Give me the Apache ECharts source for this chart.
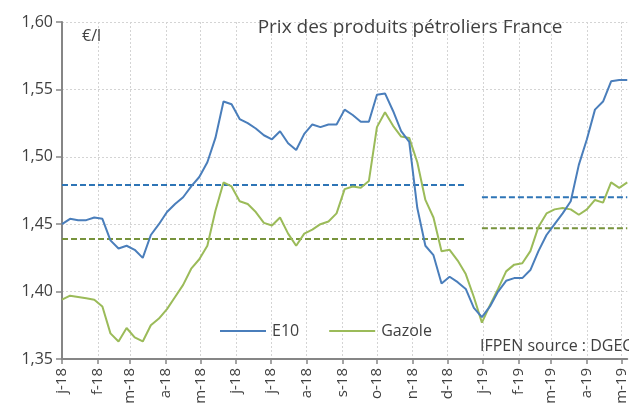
<!DOCTYPE html>
<html>
<head>
<meta charset="utf-8">
<script src="https://cdn.jsdelivr.net/npm/echarts@6/dist/echarts.min.js"></script>
<style>html,body{margin:0;padding:0;background:#fff}#c{width:629px;height:409px}</style>
</head>
<body>
<div id="c"></div>
<script>
// ---- data ----
const axisStart = '2018-01-01';
const axisEnd = '2019-05-06';
const firstWeek = '2018-01-01';
const monthLetters = ['j','f','m','a','m','j','j','a','s','o','n','d'];
const yTicks = [1.35, 1.40, 1.45, 1.50, 1.55, 1.60];

const e10 = [1.450,1.454,1.453,1.453,1.455,1.454,1.438,1.432,1.434,1.431,1.425,1.442,1.450,1.459,1.465,1.470,1.478,1.485,1.496,1.514,
  1.541,1.539,1.528,1.525,1.521,1.516,1.513,1.519,1.510,1.505,1.517,1.524,1.522,1.524,1.524,1.535,1.531,1.526,1.526,1.546,
  1.547,1.534,1.519,1.511,1.462,1.434,1.427,1.406,1.411,1.407,1.402,1.388,1.381,1.389,1.400,1.408,1.410,1.410,1.416,1.430,
  1.442,1.450,1.458,1.467,1.494,1.513,1.535,1.541,1.556,1.557,1.557];
const gazole = [1.394,1.397,1.396,1.395,1.394,1.389,1.369,1.363,1.373,1.366,1.363,1.375,1.380,1.387,1.396,1.405,1.417,1.424,1.434,1.460,
  1.481,1.478,1.467,1.465,1.459,1.451,1.449,1.455,1.443,1.434,1.443,1.446,1.450,1.452,1.458,1.476,1.478,1.477,1.482,1.522,
  1.533,1.523,1.515,1.514,1.496,1.468,1.455,1.430,1.431,1.423,1.413,1.396,1.377,1.390,1.402,1.415,1.420,1.421,1.430,1.448,
  1.458,1.461,1.462,1.461,1.457,1.461,1.468,1.466,1.481,1.477,1.481];

const avgPeriods = ['2018-01-01','2018-12-16','2018-12-31','2019-05-06'];
const avgE10 = [1.479, 1.470];
const avgGazole = [1.439, 1.447];

// ---- build ----
function fmt(d){ return d.toISOString().slice(0,10); }
const cats = [];
for (let d = new Date(axisStart + 'T00:00:00Z'); fmt(d) <= axisEnd; d.setUTCDate(d.getUTCDate()+1)) cats.push(fmt(d));
const weeks = [];
for (let i = 0, d = new Date(firstWeek + 'T00:00:00Z'); i < e10.length; i++, d.setUTCDate(d.getUTCDate()+7)) weeks.push(fmt(d));
const isMonthStart = (i, v) => String(v).slice(8) === '01';
const FONT = 'Open Sans';
const TXT = '#404040';

const chart = echarts.init(document.getElementById('c'), null, {renderer:'canvas'});
chart.setOption({
  animation: false,
  backgroundColor: '#fff',
  textStyle: {fontFamily: FONT, color: TXT},
  title: [
    {text: 'Prix des produits pétroliers France', left: 405, top: 13, textAlign: 'center',
     textStyle: {fontFamily: FONT, fontSize: 19, fontWeight: 'normal', color: TXT}},
    {text: '€/l', left: 77, top: 23, textStyle: {fontFamily: FONT, fontSize: 16, fontWeight: 'normal', color: TXT}},
    {text: 'IFPEN source : DGEC', left: 475, top: 333, textStyle: {fontFamily: FONT, fontSize: 16, fontWeight: 'normal', color: TXT}}
  ],
  legend: {
    data: ['E10', 'Gazole'],
    left: 215, top: 318,
    icon: 'rect', itemWidth: 46, itemHeight: 2, itemGap: 30,
    textStyle: {fontFamily: FONT, fontSize: 16, color: TXT, padding: [0,0,0,1]}
  },
  grid: {left: 62, right: 0, top: 22, bottom: 50, containLabel: false},
  xAxis: {
    type: 'category', data: cats, boundaryGap: false,
    axisLine: {lineStyle: {color: '#868686', width: 2}},
    axisTick: {interval: isMonthStart, length: 5, lineStyle: {color: '#868686', width: 1.5}},
    axisLabel: {interval: isMonthStart, rotate: 90, margin: 9, fontSize: 15, color: TXT, fontFamily: FONT,
      formatter: v => monthLetters[+v.slice(5,7)-1] + '-' + v.slice(2,4)},
    splitLine: {show: true, interval: isMonthStart, lineStyle: {color: '#d4d4d4', type: [2,2], width: 1}}
  },
  yAxis: {
    type: 'value', min: yTicks[0], max: yTicks[yTicks.length-1], interval: 0.05,
    axisLine: {show: true, lineStyle: {color: '#868686', width: 2}},
    axisTick: {show: true, length: 6, lineStyle: {color: '#868686', width: 1.5}},
    axisLabel: {fontSize: 16, color: TXT, fontFamily: FONT, margin: 9, formatter: v => v.toFixed(2).replace('.', ',')},
    splitLine: {lineStyle: {color: '#d4d4d4', type: [2,2], width: 1}}
  },
  series: [
    {name: 'E10', type: 'line', data: weeks.map((w,i)=>[w, e10[i]]), showSymbol: false,
     lineStyle: {color: '#4a7ebb', width: 2}, itemStyle: {color: '#4a7ebb'}, z: 4},
    {name: 'Gazole', type: 'line', data: weeks.map((w,i)=>[w, gazole[i]]), showSymbol: false,
     lineStyle: {color: '#9bbb59', width: 2}, itemStyle: {color: '#9bbb59'}, z: 3},
    {name: 'moyE10a', type: 'line', data: [[avgPeriods[0], avgE10[0]], [avgPeriods[1], avgE10[0]]], showSymbol: false,
     lineStyle: {color: '#2e75b6', width: 2, type: [6,3]}, z: 2},
    {name: 'moyE10b', type: 'line', data: [[avgPeriods[2], avgE10[1]], [avgPeriods[3], avgE10[1]]], showSymbol: false,
     lineStyle: {color: '#2e75b6', width: 2, type: [6,3]}, z: 2},
    {name: 'moyGa', type: 'line', data: [[avgPeriods[0], avgGazole[0]], [avgPeriods[1], avgGazole[0]]], showSymbol: false,
     lineStyle: {color: '#77933c', width: 2, type: [6,3]}, z: 2},
    {name: 'moyGb', type: 'line', data: [[avgPeriods[2], avgGazole[1]], [avgPeriods[3], avgGazole[1]]], showSymbol: false,
     lineStyle: {color: '#77933c', width: 2, type: [6,3]}, z: 2}
  ]
});
</script>
</body>
</html>
